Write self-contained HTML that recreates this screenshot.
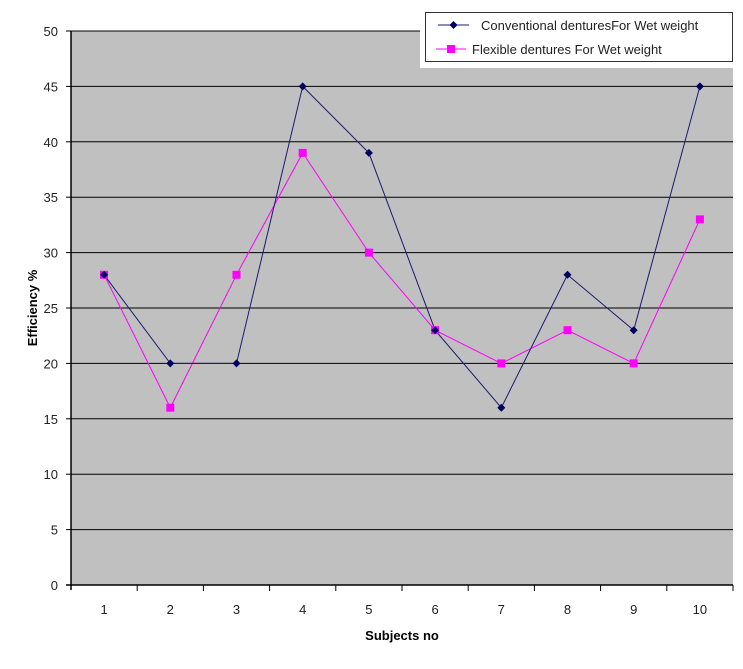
<!DOCTYPE html><html><head><style>body{margin:0;background:#fff}</style></head><body>
<svg width="743" height="664" xmlns="http://www.w3.org/2000/svg" font-family="Liberation Sans, Arial, sans-serif">
<rect x="71" y="31" width="662" height="554" fill="#c0c0c0"/>
<g stroke="#000" stroke-width="1">
<line x1="71" x2="733" y1="31" y2="31"/><line x1="71" x2="733" y1="86.4" y2="86.4"/><line x1="71" x2="733" y1="141.8" y2="141.8"/><line x1="71" x2="733" y1="197.2" y2="197.2"/><line x1="71" x2="733" y1="252.6" y2="252.6"/><line x1="71" x2="733" y1="308" y2="308"/><line x1="71" x2="733" y1="363.4" y2="363.4"/><line x1="71" x2="733" y1="418.8" y2="418.8"/><line x1="71" x2="733" y1="474.2" y2="474.2"/><line x1="71" x2="733" y1="529.6" y2="529.6"/>
</g>
<g stroke="#000" stroke-width="1.5"><line x1="71" y1="31" x2="71" y2="590"/><line x1="66" y1="585" x2="733" y2="585"/></g>
<g stroke="#000">
<line x1="66" x2="71" y1="31" y2="31"/><line x1="66" x2="71" y1="86.4" y2="86.4"/><line x1="66" x2="71" y1="141.8" y2="141.8"/><line x1="66" x2="71" y1="197.2" y2="197.2"/><line x1="66" x2="71" y1="252.6" y2="252.6"/><line x1="66" x2="71" y1="308" y2="308"/><line x1="66" x2="71" y1="363.4" y2="363.4"/><line x1="66" x2="71" y1="418.8" y2="418.8"/><line x1="66" x2="71" y1="474.2" y2="474.2"/><line x1="66" x2="71" y1="529.6" y2="529.6"/>
<line x1="137.2" x2="137.2" y1="585" y2="591"/><line x1="203.4" x2="203.4" y1="585" y2="591"/><line x1="269.6" x2="269.6" y1="585" y2="591"/><line x1="335.8" x2="335.8" y1="585" y2="591"/><line x1="402" x2="402" y1="585" y2="591"/><line x1="468.2" x2="468.2" y1="585" y2="591"/><line x1="534.4" x2="534.4" y1="585" y2="591"/><line x1="600.6" x2="600.6" y1="585" y2="591"/><line x1="666.8" x2="666.8" y1="585" y2="591"/><line x1="733" x2="733" y1="585" y2="591"/>
</g>
<g font-size="13" text-anchor="end" fill="#222">
<text x="58" y="590">0</text><text x="58" y="534.6">5</text><text x="58" y="479.2">10</text><text x="58" y="423.8">15</text><text x="58" y="368.4">20</text><text x="58" y="313">25</text><text x="58" y="257.6">30</text><text x="58" y="202.2">35</text><text x="58" y="146.8">40</text><text x="58" y="91.4">45</text><text x="58" y="36">50</text>
</g>
<g font-size="13" text-anchor="middle" fill="#222">
<text x="104.1" y="614">1</text><text x="170.3" y="614">2</text><text x="236.5" y="614">3</text><text x="302.7" y="614">4</text><text x="368.9" y="614">5</text><text x="435.1" y="614">6</text><text x="501.3" y="614">7</text><text x="567.5" y="614">8</text><text x="633.7" y="614">9</text><text x="699.9" y="614">10</text>
</g>
<text x="402" y="640" font-size="13" font-weight="bold" text-anchor="middle">Subjects no</text>
<text transform="translate(37,308) rotate(-90)" font-size="13" font-weight="bold" text-anchor="middle">Efficiency %</text>
<polyline fill="none" stroke="#f0f" stroke-width="1" points="104.1,274.8 170.3,407.7 236.5,274.8 302.7,152.9 368.9,252.6 435.1,330.2 501.3,363.4 567.5,330.2 633.7,363.4 699.9,219.4"/>
<polyline fill="none" stroke="#1a1a70" stroke-width="1" points="104.1,274.8 170.3,363.4 236.5,363.4 302.7,86.4 368.9,152.9 435.1,330.2 501.3,407.7 567.5,274.8 633.7,330.2 699.9,86.4"/>
<g fill="#f0f"><rect x="100" y="270.8" width="8" height="8"/><rect x="166.3" y="403.7" width="8" height="8"/><rect x="232.5" y="270.8" width="8" height="8"/><rect x="298.7" y="148.9" width="8" height="8"/><rect x="364.9" y="248.6" width="8" height="8"/><rect x="431.1" y="326.2" width="8" height="8"/><rect x="497.3" y="359.4" width="8" height="8"/><rect x="563.5" y="326.2" width="8" height="8"/><rect x="629.7" y="359.4" width="8" height="8"/><rect x="695.9" y="215.4" width="8" height="8"/></g>
<g fill="#000060">
<path d="M104.1,270.8l4,4l-4,4l-4,-4z"/><path d="M170.3,359.4l4,4l-4,4l-4,-4z"/><path d="M236.5,359.4l4,4l-4,4l-4,-4z"/><path d="M302.7,82.4l4,4l-4,4l-4,-4z"/><path d="M368.9,148.9l4,4l-4,4l-4,-4z"/><path d="M435.1,326.2l4,4l-4,4l-4,-4z"/><path d="M501.3,403.7l4,4l-4,4l-4,-4z"/><path d="M567.5,270.8l4,4l-4,4l-4,-4z"/><path d="M633.7,326.2l4,4l-4,4l-4,-4z"/><path d="M699.9,82.4l4,4l-4,4l-4,-4z"/>
</g>
<rect x="420" y="0" width="323" height="68" fill="#fff"/>
<rect x="425.5" y="12.5" width="307" height="49" fill="#fff" stroke="#333"/>
<line x1="438" x2="469" y1="25" y2="25" stroke="#1a1a70"/><path d="M453.5,21l4,4l-4,4l-4,-4z" fill="#000060"/>
<line x1="436" x2="466" y1="49" y2="49" stroke="#f0f"/><rect x="447" y="45" width="8" height="8" fill="#f0f"/>
<text x="481" y="30" font-size="13" fill="#222">Conventional denturesFor Wet  weight</text>
<text x="472" y="54" font-size="13" fill="#222">Flexible dentures For Wet weight</text>
</svg>
</body></html>
